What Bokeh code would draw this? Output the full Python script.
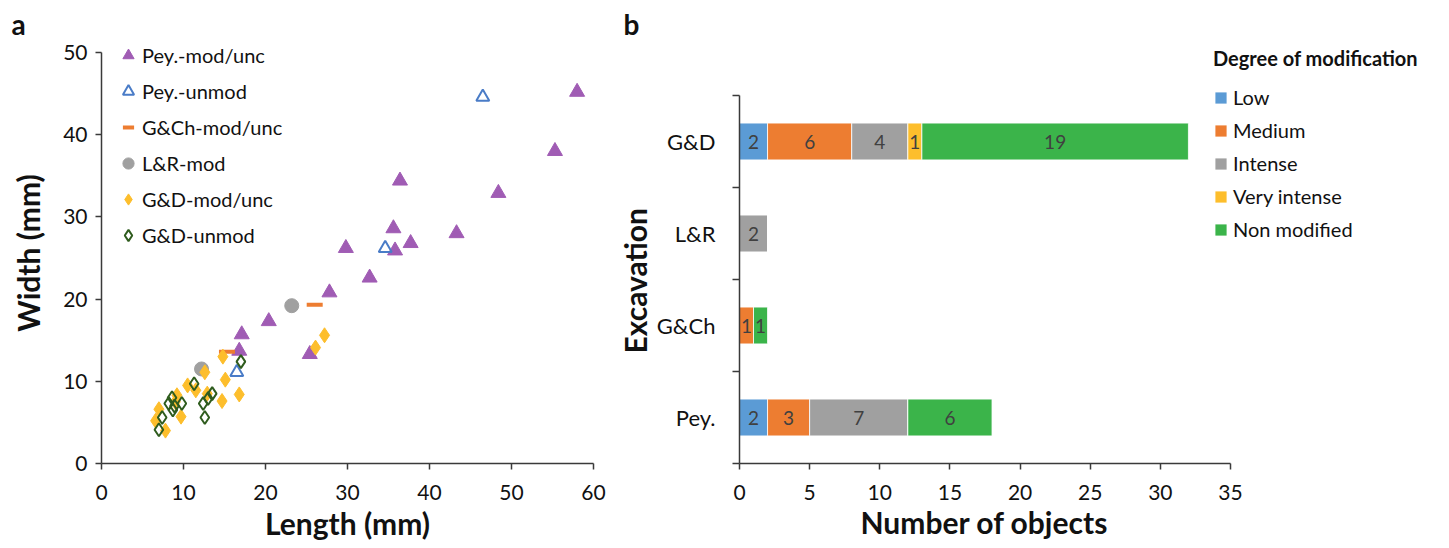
from bokeh.plotting import figure
from bokeh.layouts import row
from bokeh.models import (ColumnDataSource, Legend, LegendItem, Range1d, FixedTicker,
                          LabelSet, Title)
from bokeh.embed import file_html
from bokeh.resources import INLINE
from bokeh.core.properties import value

FONT = "Lato"

# ---------------- Panel a data ----------------
pey_mod_x = [58.0, 55.3, 48.4, 43.3, 36.4, 35.6, 37.7, 35.8, 29.8, 32.7, 27.8, 20.4, 17.1, 16.8, 25.4]
pey_mod_y = [45.2, 38.0, 32.9, 28.0, 34.4, 28.6, 26.8, 25.9, 26.2, 22.6, 20.8, 17.3, 15.7, 13.7, 13.3]
pey_unmod_x = [46.5, 34.6, 16.5]
pey_unmod_y = [44.6, 26.2, 11.1]
gch_x = [26.0, 15.3]
gch_y = [19.3, 13.6]
lr_x = [23.2, 12.2]
lr_y = [19.2, 11.5]
gd_mod_x = [27.2, 26.1, 14.8, 12.6, 15.1, 10.5, 11.5, 16.8, 12.9, 14.7, 9.2, 9.0, 9.7, 7.0, 6.6, 7.8]
gd_mod_y = [15.6, 14.1, 13.0, 11.1, 10.2, 9.5, 8.9, 8.4, 8.5, 7.6, 8.3, 7.5, 5.7, 6.6, 5.2, 4.0]
gd_unmod_x = [17.0, 11.3, 8.6, 8.2, 8.7, 9.8, 7.4, 7.0, 13.5, 13.0, 12.4, 12.6, 8.9]
gd_unmod_y = [12.4, 9.7, 8.0, 7.3, 6.5, 7.3, 5.6, 4.1, 8.5, 7.9, 7.3, 5.6, 7.0]
x_ticks_a = [0, 10, 20, 30, 40, 50, 60]
y_ticks_a = [0, 10, 20, 30, 40, 50]

# ---------------- Panel b data ----------------
excavations = ["Pey.", "G&Ch", "L&R", "G&D"]
degrees = ["Low", "Medium", "Intense", "Very intense", "Non modified"]
low = [2, 0, 0, 2]
medium = [3, 1, 0, 6]
intense = [7, 0, 2, 4]
very_intense = [0, 0, 0, 1]
non_modified = [6, 1, 0, 19]
x_ticks_b = [0, 5, 10, 15, 20, 25, 30, 35]

AX = "#3a3a3a"
H = 548
TOP = 42            # frame top
FRAME_H = 421       # frame bottom at 463
BOTTOM = H - TOP - FRAME_H

def style_axes(p):
    for ax in (p.xaxis[0], p.yaxis[0]):
        ax.axis_line_color = AX
        ax.axis_line_width = 1.5
        ax.major_tick_line_color = AX
        ax.major_tick_line_width = 1.5
        ax.major_tick_in = 0
        ax.major_tick_out = 6
        ax.minor_tick_line_color = None
        ax.major_label_text_font = FONT
        ax.major_label_text_font_size = "21px"
        ax.major_label_text_color = "#111111"
        ax.axis_label_text_font = FONT
        ax.axis_label_text_font_style = "bold"
        ax.axis_label_text_font_size = "30px"
        ax.axis_label_text_color = "#111111"
    p.xgrid.visible = False
    p.ygrid.visible = False
    p.outline_line_color = None
    p.title.text_font = FONT
    p.title.text_font_size = "28px"
    p.title.text_font_style = "bold"
    p.title.text_color = "#111111"
    p.title.align = "left"
    p.title.vertical_align = "top"
    p.title.standoff = 0

# ---------------- Panel a ----------------
WA = 615
pa = figure(width=WA, height=H, output_backend="svg", toolbar_location=None, title="a",
            x_range=Range1d(0, 60), y_range=Range1d(0, 50 * FRAME_H / 411),
            min_border_left=101, min_border_right=WA - 101 - 492, min_border_top=TOP,
            min_border_bottom=BOTTOM,
            x_axis_label="Length (mm)", y_axis_label="Width (mm)")
style_axes(pa)
pa.title.offset = -90
pa.yaxis.bounds = (0, 50)
pa.xaxis.ticker = FixedTicker(ticks=x_ticks_a)
pa.yaxis.ticker = FixedTicker(ticks=y_ticks_a)
pa.xaxis.major_label_standoff = 15
pa.yaxis.major_label_standoff = 8
pa.xaxis.axis_label_standoff = 2
pa.yaxis.axis_label_standoff = 14

r1 = pa.scatter(pey_mod_x, pey_mod_y, marker="triangle", size=15, fill_color="#A05CB4", line_color="#A05CB4")
r2 = pa.scatter(pey_unmod_x, pey_unmod_y, marker="triangle", size=13, fill_color=None, line_color="#4A7CC7", line_width=2)
r3 = pa.scatter(gch_x, gch_y, marker="dash", size=16, line_color="#ED7D31", line_width=4)
r4 = pa.scatter(lr_x, lr_y, marker="circle", size=14, fill_color="#A0A0A0", line_color="#A0A0A0")
r5 = pa.scatter(gd_mod_x, gd_mod_y, marker="diamond", size=15, fill_color="#FDBE2C", line_color="#FDBE2C")
r6 = pa.scatter(gd_unmod_x, gd_unmod_y, marker="diamond", size=13, fill_color=None, line_color="#2F5C1E", line_width=2)

leg_a = Legend(items=[LegendItem(label="Pey.-mod/unc", renderers=[r1]),
                      LegendItem(label="Pey.-unmod", renderers=[r2]),
                      LegendItem(label="G&Ch-mod/unc", renderers=[r3]),
                      LegendItem(label="L&R-mod", renderers=[r4]),
                      LegendItem(label="G&D-mod/unc", renderers=[r5]),
                      LegendItem(label="G&D-unmod", renderers=[r6])],
               location=(13, 214), padding=0, spacing=8, glyph_width=28, glyph_height=28,
               label_height=20, label_standoff=0, label_text_font=FONT,
               label_text_font_size="20px", label_text_color="#111111",
               background_fill_alpha=0, border_line_color=None)
pa.add_layout(leg_a)

# ---------------- Panel b ----------------
WB = 832
frame_w = WB - 124 - 5
pb = figure(width=WB, height=H, output_backend="svg", toolbar_location=None, title="b",
            x_range=Range1d(0, 35 * frame_w / 491), y_range=Range1d(0, 4 * FRAME_H / 368),
            min_border_left=124, min_border_right=5, min_border_top=TOP, min_border_bottom=BOTTOM)
style_axes(pb)
pb.title.offset = -116
pb.xaxis.bounds = (0, 35)
pb.yaxis.bounds = (0, 4)
pb.xaxis.ticker = FixedTicker(ticks=x_ticks_b)
pb.yaxis.ticker = FixedTicker(ticks=[i + 0.5 for i in range(len(excavations))],
                              minor_ticks=list(range(len(excavations) + 1)))
pb.yaxis.major_label_overrides = {i + 0.5: e for i, e in enumerate(excavations)}
pb.yaxis.major_label_text_font_size = "22px"
pb.yaxis.major_tick_line_color = None
pb.yaxis.major_tick_out = 0
pb.yaxis.minor_tick_line_color = AX
pb.yaxis.minor_tick_line_width = 1.5
pb.yaxis.minor_tick_in = 0
pb.yaxis.minor_tick_out = 7
pb.yaxis.major_label_standoff = 17
pb.xaxis.major_label_standoff = 15

# axis titles of panel b, centred on the 0-35 / 0-4 part of the frame
pb.add_layout(Title(text="Number of objects", text_font=FONT, text_font_size="30px",
                    text_font_style="bold", text_color="#111111", align="left",
                    offset=121, vertical_align="middle", standoff=0), "below")
pb.add_layout(Title(text="Excavation", text_font=FONT, text_font_size="30px",
                    text_font_style="bold", text_color="#111111", align="left",
                    offset=110, vertical_align="middle", standoff=0), "left")

ypos = [i + 0.5 for i in range(len(excavations))]
series = [low, medium, intense, very_intense, non_modified]
colors = ["#5B9BD5", "#ED7D31", "#A0A0A0", "#FDBE2C", "#3BB44A"]
left = [0] * len(excavations)
items_b = []
for name, vals, col in zip(degrees, series, colors):
    right = [l + v for l, v in zip(left, vals)]
    src = ColumnDataSource(dict(y=ypos, left=left, right=right,
                                mid=[(l + r) / 2 for l, r in zip(left, right)],
                                lab=[str(v) if v > 0 else "" for v in vals]))
    r = pb.hbar(y="y", left="left", right="right", height=0.4, source=src,
                fill_color=col, line_color="white", line_width=0.8)
    items_b.append(LegendItem(label=name, renderers=[r]))
    pb.add_layout(LabelSet(x="mid", y="y", text="lab", source=src, text_align="center",
                           text_baseline="middle", text_font=value(FONT),
                           text_font_size="19px", text_color="#404040"))
    left = right

leg_b = Legend(items=items_b, location=(474, 222), padding=0, spacing=9,
               glyph_width=15, glyph_height=15, label_height=20, label_standoff=5,
               label_text_font=FONT, label_text_font_size="20px", label_text_color="#111111",
               title="Degree of modification", title_text_font=FONT,
               title_text_font_size="20px", title_text_font_style="bold",
               title_text_color="#111111", title_standoff=15,
               background_fill_alpha=0, border_line_color=None)
pb.add_layout(leg_b)

layout = row(pa, pb)
open("out.html", "w").write(file_html(layout, INLINE))
